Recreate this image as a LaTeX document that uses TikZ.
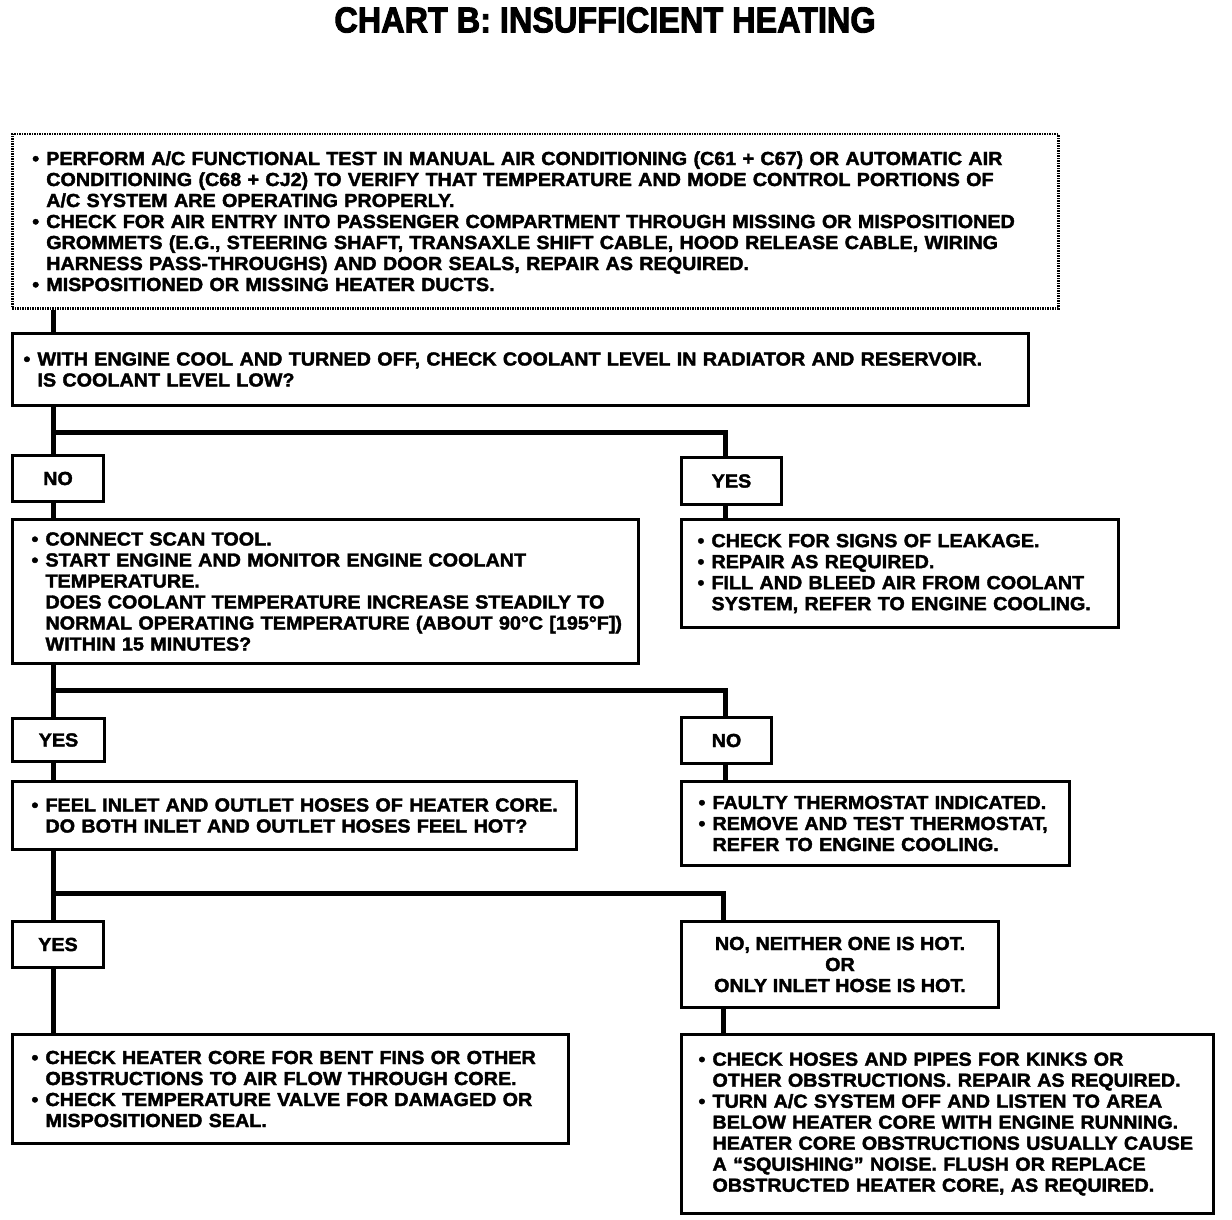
\documentclass[tikz,border=0pt]{standalone}
\usepackage{fontspec}
\setmainfont{Liberation Sans}[FakeStretch=1.045,FakeBold=2]
\newfontfamily\titlefont{Liberation Sans}[FakeStretch=0.9,FakeBold=2.5]
\newcommand\bodytext{\fontsize{18.9}{21}\selectfont\bfseries}
\newcommand\bl{\makebox[14pt][l]{•}}
\newcommand\ind{\hspace*{14pt}}
\newcommand\lyne[1]{\mbox{#1}}
\begin{document}
\begin{tikzpicture}[x=1pt,y=-1pt,
  box/.style={draw, line width=3pt, anchor=north west, align=left, inner ysep=0pt, font=\bodytext},
  dotbox/.style={box, dash pattern=on 1.5pt off 1pt, line width=2.5pt},
  ans/.style={draw, line width=3pt, anchor=north west, align=center, inner sep=0pt, font=\bodytext},
  conn/.style={line width=5pt, line join=miter}]
\useasboundingbox (0,0) rectangle (1232,1220);
\node[font=\titlefont\fontsize{36}{36}\selectfont\bfseries] (title) at (605,20) {CHART B: INSUFFICIENT HEATING};
\coordinate (L) at (53,0);
\coordinate (R) at (725,0);
\coordinate (j1) at (725,432);
\coordinate (j2) at (725,690);
\coordinate (j3) at (723,893);

\node[dotbox, minimum width=1046, minimum height=174, inner xsep=20, text width=1006] (b1) at (11,133) {%
\lyne{\bl PERFORM A/C FUNCTIONAL TEST IN MANUAL AIR CONDITIONING (C61 + C67) OR AUTOMATIC AIR}\\
\lyne{\ind CONDITIONING (C68 + CJ2) TO VERIFY THAT TEMPERATURE AND MODE CONTROL PORTIONS OF}\\
\lyne{\ind A/C SYSTEM ARE OPERATING PROPERLY.}\\
\lyne{\bl CHECK FOR AIR ENTRY INTO PASSENGER COMPARTMENT THROUGH MISSING OR MISPOSITIONED}\\
\lyne{\ind GROMMETS (E.G., STEERING SHAFT, TRANSAXLE SHIFT CABLE, HOOD RELEASE CABLE, WIRING}\\
\lyne{\ind HARNESS PASS-THROUGHS) AND DOOR SEALS, REPAIR AS REQUIRED.}\\
\lyne{\bl MISPOSITIONED OR MISSING HEATER DUCTS.}};

\node[box, minimum width=1016, minimum height=72, inner xsep=11, text width=994] (b2) at (11,332) {%
\lyne{\bl WITH ENGINE COOL AND TURNED OFF, CHECK COOLANT LEVEL IN RADIATOR AND RESERVOIR.}\\
\lyne{\ind IS COOLANT LEVEL LOW?}};

\node[ans, minimum width=91, minimum height=46] (no1) at (11,454) {NO};
\node[ans, minimum width=100, minimum height=47] (yes1) at (680,456) {YES};

\node[box, minimum width=626, minimum height=144, inner xsep=19, text width=588] (b3) at (11,518) {%
\lyne{\bl CONNECT SCAN TOOL.}\\
\lyne{\bl START ENGINE AND MONITOR ENGINE COOLANT}\\
\lyne{\ind TEMPERATURE.}\\
\lyne{\ind DOES COOLANT TEMPERATURE INCREASE STEADILY TO}\\
\lyne{\ind NORMAL OPERATING TEMPERATURE (ABOUT 90°C [195°F])}\\
\lyne{\ind WITHIN 15 MINUTES?}};

\node[box, minimum width=437, minimum height=108, inner xsep=16, text width=405] (b4) at (680,518) {%
\lyne{\bl CHECK FOR SIGNS OF LEAKAGE.}\\
\lyne{\bl REPAIR AS REQUIRED.}\\
\lyne{\bl FILL AND BLEED AIR FROM COOLANT}\\
\lyne{\ind SYSTEM, REFER TO ENGINE COOLING.}};

\node[ans, minimum width=92, minimum height=43] (yes2) at (11,717) {YES};
\node[ans, minimum width=90, minimum height=46] (no2) at (680,716) {NO};

\node[box, minimum width=564, minimum height=68, inner xsep=19, text width=526] (b5) at (11,780) {%
\lyne{\bl FEEL INLET AND OUTLET HOSES OF HEATER CORE.}\\
\lyne{\ind DO BOTH INLET AND OUTLET HOSES FEEL HOT?}};

\node[box, minimum width=388, minimum height=84, inner xsep=17, text width=354] (b6) at (680,780) {%
\lyne{\bl FAULTY THERMOSTAT INDICATED.}\\
\lyne{\bl REMOVE AND TEST THERMOSTAT,}\\
\lyne{\ind REFER TO ENGINE COOLING.}};

\node[ans, minimum width=91, minimum height=46] (yes3) at (11,920) {YES};
\node[ans, minimum width=317, minimum height=86] (no3) at (680,920) {NO, NEITHER ONE IS HOT.\\OR\\ONLY INLET HOSE IS HOT.};

\node[box, minimum width=556, minimum height=109, inner xsep=19, text width=518] (b7) at (11,1033) {%
\lyne{\bl CHECK HEATER CORE FOR BENT FINS OR OTHER}\\
\lyne{\ind OBSTRUCTIONS TO AIR FLOW THROUGH CORE.}\\
\lyne{\bl CHECK TEMPERATURE VALVE FOR DAMAGED OR}\\
\lyne{\ind MISPOSITIONED SEAL.}};

\node[box, minimum width=532, minimum height=179, inner xsep=17, text width=498] (b8) at (680,1033) {%
\lyne{\bl CHECK HOSES AND PIPES FOR KINKS OR}\\
\lyne{\ind OTHER OBSTRUCTIONS. REPAIR AS REQUIRED.}\\
\lyne{\bl TURN A/C SYSTEM OFF AND LISTEN TO AREA}\\
\lyne{\ind BELOW HEATER CORE WITH ENGINE RUNNING.}\\
\lyne{\ind HEATER CORE OBSTRUCTIONS USUALLY CAUSE}\\
\lyne{\ind A “SQUISHING” NOISE. FLUSH OR REPLACE}\\
\lyne{\ind OBSTRUCTED HEATER CORE, AS REQUIRED.}};

% connectors
\draw[conn] (b1.south -| L) -- (b2.north -| L);
\draw[conn] (b2.south -| L) -- (no1.north -| L);
\draw[conn] (j1 -| L) -- (j1) -- (yes1.north -| j1);
\draw[conn] (no1.south -| L) -- (b3.north -| L);
\draw[conn] (yes1.south -| j1) -- (b4.north -| j1);
\draw[conn] (b3.south -| L) -- (yes2.north -| L);
\draw[conn] (j2 -| L) -- (j2) -- (no2.north -| j2);
\draw[conn] (yes2.south -| L) -- (b5.north -| L);
\draw[conn] (no2.south -| j2) -- (b6.north -| j2);
\draw[conn] (b5.south -| L) -- (yes3.north -| L);
\draw[conn] (j3 -| L) -- (j3) -- (no3.north -| j3);
\draw[conn] (yes3.south -| L) -- (b7.north -| L);
\draw[conn] (no3.south -| j3) -- (b8.north -| j3);
\end{tikzpicture}
\end{document}
